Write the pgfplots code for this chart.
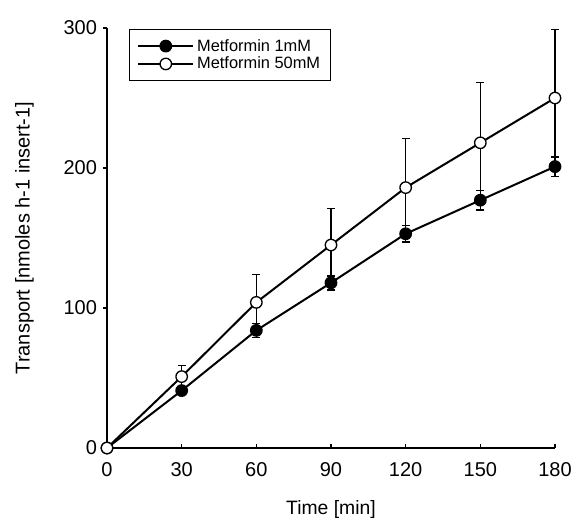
\documentclass[border=0pt]{standalone}
\usepackage{fontspec}
\setmainfont{Liberation Sans}
\usepackage{pgfplots}
\pgfplotsset{compat=1.18}
\begin{document}
\begin{tikzpicture}
\useasboundingbox (-80.25pt,-55.5pt) rectangle (351.75pt,336pt);
\begin{axis}[
  at={(0,0)}, anchor=south west,
  scale only axis,
  width=336pt, height=315pt,
  xmin=0, xmax=180, ymin=0, ymax=300,
  axis lines=left,
  axis line style={-, line width=1pt},
  xtick={0,30,60,90,120,150,180},
  ytick={0,100,200,300},
  tick align=outside,
  major tick length=3pt,
  tick style={line width=0.8pt, black},
  x tick style={yshift=3pt},
  /pgf/number format/assume math mode=true,
  tick label style={font=\fontsize{15}{17}\selectfont},
  xticklabel style={yshift=-4pt},
  yticklabel style={xshift=-1pt},
  every axis x label/.style={at={(rel axis cs:0.5,0)}, anchor=center, yshift=-46.5pt, font=\fontsize{14.5}{16}\selectfont},
  every axis y label/.style={at={(rel axis cs:0,0.5)}, anchor=center, xshift=-62pt, rotate=90, font=\fontsize{15}{17}\selectfont},
  xlabel={Time [min]},
  ylabel={Transport [nmoles h-1 insert-1]},
  clip=false,
  legend style={at={(axis description cs:0.049,0.997)}, anchor=north west,
    font=\fontsize{12.3}{13}\selectfont, draw=black, line width=0.8pt,
    inner xsep=6pt, inner ysep=5pt, row sep=-1pt, cells={anchor=west}},
  legend image post style={line width=1.5pt},
  legend image code/.code={\draw[#1] (0cm,0cm) -- (1.45cm,0cm); \draw[#1,only marks] plot coordinates {(0.72cm,0cm)};},
]
\addplot[black, line width=1.5pt, mark=*, mark size=4.3pt,
  mark options={solid, fill=black, line width=1pt},
  error bars/.cd, y dir=both, y explicit,
  error bar style={line width=1.1pt}, error mark options={rotate=90, mark size=3pt, line width=1.1pt}]
  coordinates {
  (0,0) +- (0,0)
  (30,41) +- (0,2)
  (60,84) +- (0,5)
  (90,118) +- (0,5)
  (120,153) +- (0,6)
  (150,177) +- (0,7)
  (180,201) +- (0,7)
};
\addlegendentry{Metformin 1mM}
\addplot[black, line width=1.5pt, mark=*, mark size=4.3pt,
  mark options={solid, fill=white, line width=1pt},
  error bars/.cd, y dir=both, y explicit,
  error bar style={line width=1.1pt}, error mark options={rotate=90, mark size=3pt, line width=1.1pt}]
  coordinates {
  (0,0) +- (0,0)
  (30,51) +- (0,8)
  (60,104) +- (0,20)
  (90,145) +- (0,26)
  (120,186) +- (0,35)
  (150,218) +- (0,43)
  (180,250) +- (0,49)
};
\addlegendentry{Metformin 50mM}
\end{axis}
\end{tikzpicture}
\end{document}
